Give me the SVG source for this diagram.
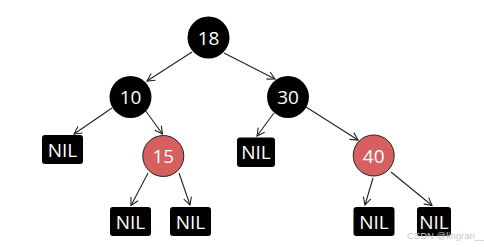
<svg xmlns="http://www.w3.org/2000/svg" width="484" height="247" viewBox="0 0 484 247">
<style>
.blk{fill:#000}
.red{fill:#d65f5f;stroke:#222;stroke-width:1}
.nil{fill:#000}
.t{fill:#fff;font-family:"Open Sans","Noto Sans",sans-serif;font-size:19px;text-anchor:middle;dominant-baseline:central}
.e{stroke:#222;stroke-width:1.1;fill:none;marker-end:url(#ah)}
.wm{fill:#c8c8c8;font-family:"Liberation Sans",sans-serif;font-size:9.5px}
</style>
<defs>
<marker id="ah" viewBox="0 0 10 10" refX="9" refY="5" markerWidth="10" markerHeight="10" markerUnits="userSpaceOnUse" orient="auto">
<path d="M1.5,1 L9,5 L1.5,9" fill="none" stroke="#222" stroke-width="1.1"/>
</marker>
</defs>
<g id="edges">
<line class="e" x1="192" y1="52" x2="147" y2="81"/>
<line class="e" x1="224" y1="53" x2="275" y2="79"/>
<line class="e" x1="112" y1="108" x2="74" y2="134"/>
<line class="e" x1="145" y1="110" x2="162.5" y2="134"/>
<line class="e" x1="274" y1="113" x2="257" y2="136"/>
<line class="e" x1="306" y1="107" x2="358" y2="140"/>
<line class="e" x1="148" y1="173" x2="131" y2="205.5"/>
<line class="e" x1="179" y1="173" x2="190" y2="205"/>
<line class="e" x1="373" y1="178" x2="365" y2="205"/>
<line class="e" x1="391" y1="172" x2="432" y2="205.5"/>
</g>
<g id="n18"><circle class="blk" cx="208.5" cy="37.5" r="21"/><text class="t" x="208.5" y="37.5">18</text></g>
<g id="n10"><circle class="blk" cx="130.5" cy="97" r="21"/><text class="t" x="130.5" y="97">10</text></g>
<g id="n30"><circle class="blk" cx="288" cy="97" r="21"/><text class="t" x="288" y="97">30</text></g>
<g id="n15"><circle class="red" cx="163.3" cy="156" r="20.5"/><text class="t" x="163.3" y="156">15</text></g>
<g id="n40"><circle class="red" cx="373.7" cy="155.5" r="20.5"/><text class="t" x="373.7" y="155.5">40</text></g>
<g id="nil1"><rect class="nil" x="42" y="135" width="41" height="29" rx="3"/><text class="t" x="62.5" y="149.5">NIL</text></g>
<g id="nil2"><rect class="nil" x="237" y="137.5" width="38" height="29.5" rx="3"/><text class="t" x="256" y="152">NIL</text></g>
<g id="nil3"><rect class="nil" x="110" y="207" width="41" height="29" rx="3"/><text class="t" x="130.5" y="221.5">NIL</text></g>
<g id="nil4"><rect class="nil" x="170" y="207" width="41" height="29" rx="3"/><text class="t" x="190.5" y="221.5">NIL</text></g>
<g id="nil5"><rect class="nil" x="353.5" y="207" width="41" height="29" rx="3"/><text class="t" x="374" y="221.5">NIL</text></g>
<g id="nil6"><rect class="nil" x="417" y="207" width="34" height="29" rx="3"/><text class="t" x="434" y="221.5">NIL</text></g>
<text class="wm" x="407" y="239">CSDN @lingran__</text>
</svg>
